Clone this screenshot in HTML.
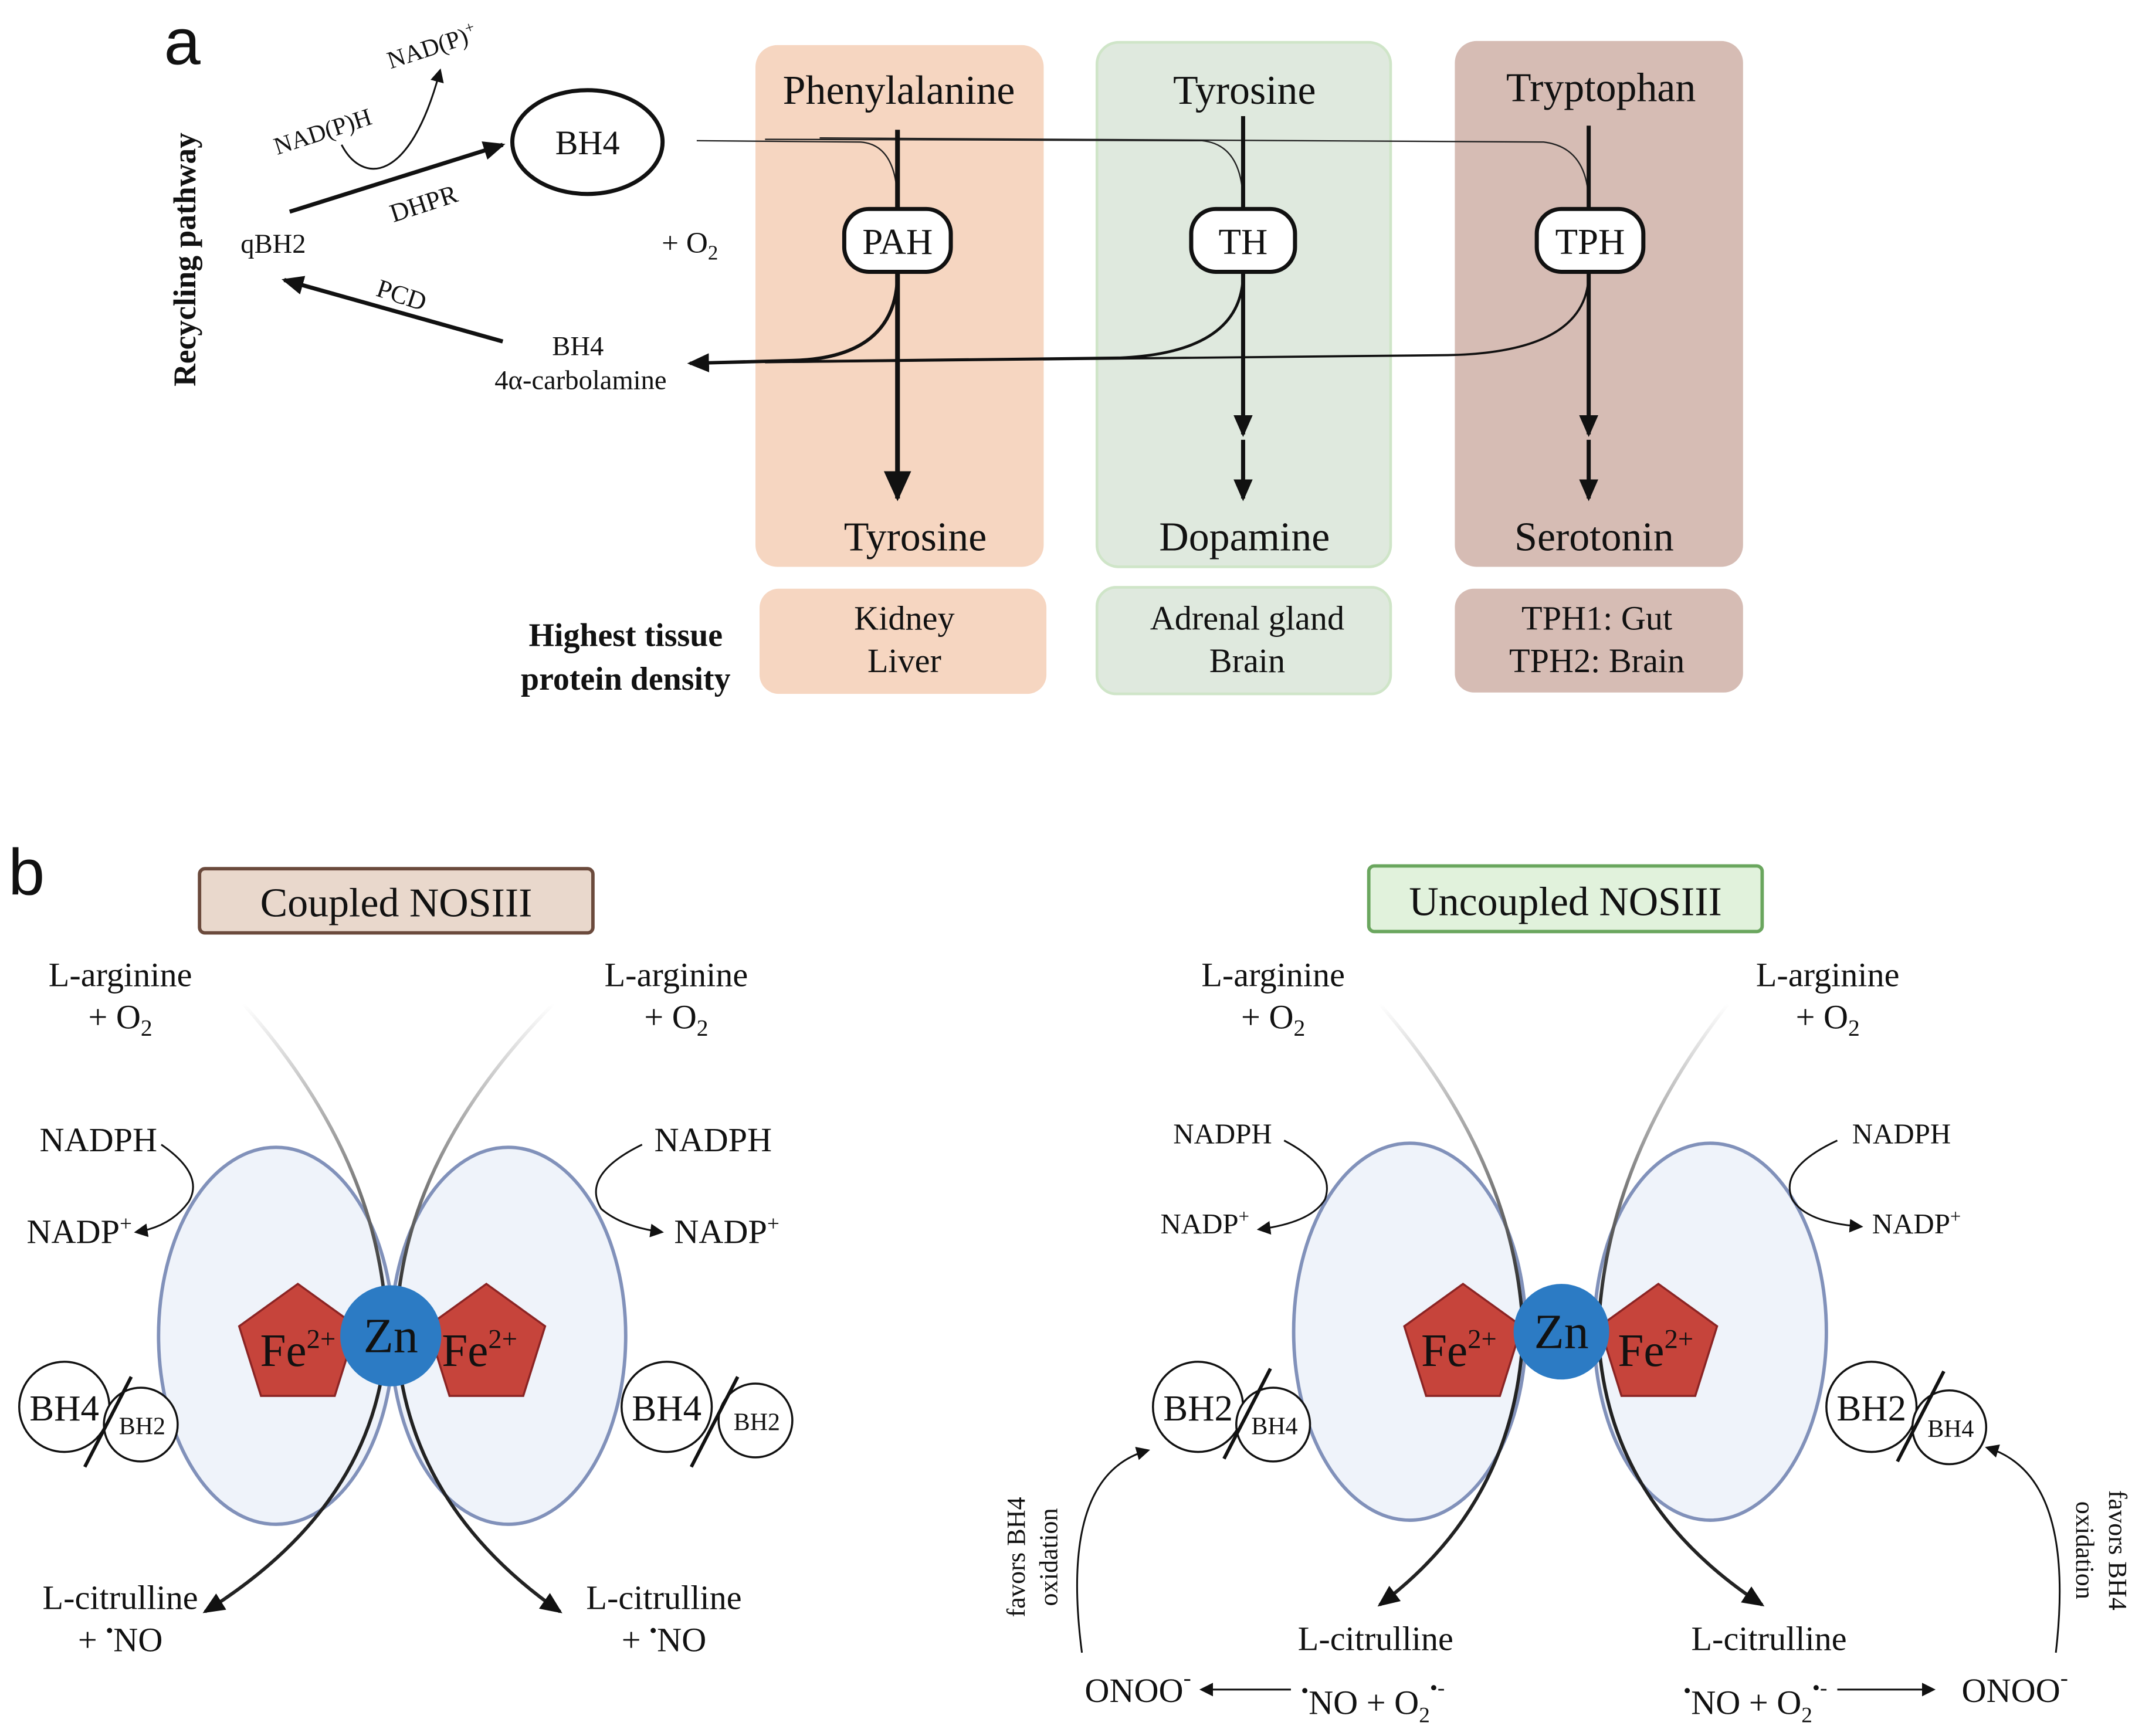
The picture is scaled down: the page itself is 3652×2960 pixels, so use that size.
<!DOCTYPE html>
<html><head><meta charset="utf-8"><style>
html,body{margin:0;padding:0;background:#fff;}
svg{display:block;}
text{font-family:"Liberation Serif",serif;fill:#111;}
.s{font-family:"Liberation Sans",sans-serif;}
</style></head><body>
<svg width="3652" height="2960" viewBox="0 0 1568 1271" xmlns="http://www.w3.org/2000/svg">
<defs>
<marker id="ah" markerWidth="10" markerHeight="10" refX="8" refY="5" orient="auto" markerUnits="userSpaceOnUse"><path d="M0,0 L10,5 L0,10 Z" fill="#111"/></marker>
<marker id="ahb" markerWidth="22" markerHeight="20" refX="20" refY="10" orient="auto" markerUnits="userSpaceOnUse"><path d="M0,0 L22,10 L0,20 Z" fill="#111"/></marker>
<marker id="ahm" markerWidth="16" markerHeight="14" refX="14" refY="7" orient="auto" markerUnits="userSpaceOnUse"><path d="M0,0 L16,7 L0,14 Z" fill="#111"/></marker>
<linearGradient id="gl" gradientUnits="userSpaceOnUse" x1="0" y1="735" x2="0" y2="960"><stop offset="0" stop-color="#fff"/><stop offset="1" stop-color="#222"/></linearGradient>
</defs>

<!-- panel a -->
<text x="120" y="47" class="s" font-size="48">a</text>
<text transform="translate(143,190) rotate(-90)" text-anchor="middle" font-size="23" font-weight="bold">Recycling pathway</text>

<ellipse cx="430" cy="104" rx="55" ry="38" fill="#fff" stroke="#111" stroke-width="3"/>
<text x="430" y="113" text-anchor="middle" font-size="25" style="font-family:'Liberation Serif',serif">BH4</text>
<text x="200" y="185" text-anchor="middle" font-size="20">qBH2</text>
<line x1="212" y1="155" x2="368" y2="106" stroke="#111" stroke-width="3" marker-end="url(#ahm)"/>
<text transform="translate(312,155) rotate(-18)" text-anchor="middle" font-size="19">DHPR</text>
<text transform="translate(238,102) rotate(-18)" text-anchor="middle" font-size="18">NAD(P)H</text>
<text transform="translate(318,40) rotate(-18)" text-anchor="middle" font-size="18">NAD(P)<tspan font-size="12" dy="-7">+</tspan></text>
<path d="M250,106 C265,135 300,135 322,52" fill="none" stroke="#111" stroke-width="1.3" marker-end="url(#ah)"/>
<line x1="368" y1="250" x2="208" y2="205" stroke="#111" stroke-width="3" marker-end="url(#ahm)"/>
<text transform="translate(292,222) rotate(18)" text-anchor="middle" font-size="19">PCD</text>
<text x="423" y="260" text-anchor="middle" font-size="20">BH4</text>
<text x="425" y="285" text-anchor="middle" font-size="20">4α-carbolamine</text>
<text x="505" y="185" text-anchor="middle" font-size="22">+ O<tspan font-size="15" dy="5">2</tspan></text>

<rect x="553" y="33" width="211" height="382" rx="16" fill="#f6d6c1"/>
<rect x="803" y="31" width="215" height="384" rx="16" fill="#dfe9de" stroke="#cfe5c8" stroke-width="2"/>
<rect x="1065" y="30" width="211" height="385" rx="16" fill="#d6bcb4"/>
<rect x="556" y="431" width="210" height="77" rx="14" fill="#f6d6c1"/>
<rect x="803" y="430" width="215" height="78" rx="14" fill="#dfe9de" stroke="#cfe5c8" stroke-width="2"/>
<rect x="1065" y="431" width="211" height="76" rx="14" fill="#d6bcb4"/>

<text x="658" y="76" text-anchor="middle" font-size="30">Phenylalanine</text>
<text x="911" y="76" text-anchor="middle" font-size="30">Tyrosine</text>
<text x="1172" y="74" text-anchor="middle" font-size="30">Tryptophan</text>

<path d="M510,103 L630,104 Q657,106 657,150" fill="none" stroke="#222" stroke-width="1"/>
<path d="M560,102 L880,103 Q910,106 910,150" fill="none" stroke="#222" stroke-width="1"/>
<path d="M600,101 L1130,104 Q1163,108 1163,150" fill="none" stroke="#222" stroke-width="1"/>
<path d="M657,200 Q657,262 580,264 L505,266" fill="none" stroke="#111" stroke-width="2.5" marker-end="url(#ahm)"/>
<path d="M910,200 Q910,258 820,262 L560,265" fill="none" stroke="#111" stroke-width="2"/>
<path d="M1163,200 Q1163,258 1060,260 L580,265" fill="none" stroke="#111" stroke-width="1.6"/>

<line x1="657" y1="95" x2="657" y2="365" stroke="#111" stroke-width="3.5" marker-end="url(#ahb)"/>
<line x1="910" y1="85" x2="910" y2="318" stroke="#111" stroke-width="3" marker-end="url(#ahm)"/>
<line x1="910" y1="322" x2="910" y2="365" stroke="#111" stroke-width="3" marker-end="url(#ahm)"/>
<line x1="1163" y1="92" x2="1163" y2="318" stroke="#111" stroke-width="3" marker-end="url(#ahm)"/>
<line x1="1163" y1="322" x2="1163" y2="365" stroke="#111" stroke-width="3" marker-end="url(#ahm)"/>

<rect x="618" y="153" width="78" height="46" rx="18" fill="#fff" stroke="#111" stroke-width="3"/>
<text x="657" y="186" text-anchor="middle" font-size="27">PAH</text>
<rect x="872" y="153" width="76" height="46" rx="18" fill="#fff" stroke="#111" stroke-width="3"/>
<text x="910" y="186" text-anchor="middle" font-size="27">TH</text>
<rect x="1125" y="153" width="78" height="46" rx="18" fill="#fff" stroke="#111" stroke-width="3"/>
<text x="1164" y="186" text-anchor="middle" font-size="27">TPH</text>

<text x="670" y="403" text-anchor="middle" font-size="30">Tyrosine</text>
<text x="911" y="403" text-anchor="middle" font-size="30">Dopamine</text>
<text x="1167" y="403" text-anchor="middle" font-size="30">Serotonin</text>

<text x="458" y="473" text-anchor="middle" font-size="24" font-weight="bold">Highest tissue</text>
<text x="458" y="505" text-anchor="middle" font-size="24" font-weight="bold">protein density</text>
<text x="662" y="461" text-anchor="middle" font-size="25">Kidney</text>
<text x="662" y="492" text-anchor="middle" font-size="25">Liver</text>
<text x="913" y="461" text-anchor="middle" font-size="25">Adrenal gland</text>
<text x="913" y="492" text-anchor="middle" font-size="25">Brain</text>
<text x="1169" y="461" text-anchor="middle" font-size="25">TPH1: Gut</text>
<text x="1169" y="492" text-anchor="middle" font-size="25">TPH2: Brain</text>

<!-- panel b -->
<text x="6" y="655" class="s" font-size="48">b</text>
<rect x="146" y="636" width="288" height="47" rx="4" fill="#e9d8cc" stroke="#6b4a3c" stroke-width="2.5"/>
<text x="290" y="671" text-anchor="middle" font-size="30">Coupled NOSIII</text>
<rect x="1002" y="634" width="288" height="48" rx="4" fill="#e1f2dc" stroke="#6aa65e" stroke-width="2.5"/>
<text x="1146" y="670" text-anchor="middle" font-size="30">Uncoupled NOSIII</text>

<ellipse cx="202" cy="978" rx="86" ry="138" fill="#eff3fa" stroke="#8191ba" stroke-width="2.5"/>
<ellipse cx="372" cy="978" rx="86" ry="138" fill="#eff3fa" stroke="#8191ba" stroke-width="2.5"/>
<path d="M178,735 Q280,850 283,975 Q278,1100 150,1180" fill="none" stroke="url(#gl)" stroke-width="2.5" marker-end="url(#ahm)"/>
<path d="M405,735 Q292,850 290,975 Q295,1100 410,1180" fill="none" stroke="url(#gl)" stroke-width="2.5" marker-end="url(#ahm)"/>
<polygon points="218,940 261,971 245,1022 191,1022 175,971" fill="#c6443b" stroke="#8b2424" stroke-width="1.5"/>
<polygon points="356,940 399,971 383,1022 329,1022 313,971" fill="#c6443b" stroke="#8b2424" stroke-width="1.5"/>
<circle cx="286" cy="978" r="37" fill="#2c7bc4"/>
<text x="286" y="990" text-anchor="middle" font-size="36">Zn</text>
<text x="218" y="1000" text-anchor="middle" font-size="34">Fe<tspan font-size="20" dy="-13">2+</tspan></text>
<text x="351" y="1000" text-anchor="middle" font-size="34">Fe<tspan font-size="20" dy="-13">2+</tspan></text>

<text x="88" y="722" text-anchor="middle" font-size="25">L-arginine</text>
<text x="88" y="753" text-anchor="middle" font-size="25">+ O<tspan font-size="17" dy="5">2</tspan></text>
<text x="495" y="722" text-anchor="middle" font-size="25">L-arginine</text>
<text x="495" y="753" text-anchor="middle" font-size="25">+ O<tspan font-size="17" dy="5">2</tspan></text>
<text x="72" y="843" text-anchor="middle" font-size="25">NADPH</text>
<text x="58" y="910" text-anchor="middle" font-size="25">NADP<tspan font-size="16" dy="-9">+</tspan></text>
<path d="M118,838 Q150,860 138,880 Q125,898 100,902" fill="none" stroke="#111" stroke-width="1.3" marker-end="url(#ah)"/>
<text x="522" y="843" text-anchor="middle" font-size="25">NADPH</text>
<text x="532" y="910" text-anchor="middle" font-size="25">NADP<tspan font-size="16" dy="-9">+</tspan></text>
<path d="M470,838 Q425,860 440,885 Q455,898 484,902" fill="none" stroke="#111" stroke-width="1.3" marker-end="url(#ah)"/>

<circle cx="47" cy="1030" r="33" fill="#fff" stroke="#111" stroke-width="1.5"/>
<circle cx="103" cy="1043" r="27" fill="#fff" stroke="#111" stroke-width="1.5"/>
<text x="47" y="1040" text-anchor="middle" font-size="27">BH4</text>
<text x="104" y="1050" text-anchor="middle" font-size="18">BH2</text>
<line x1="62" y1="1074" x2="96" y2="1008" stroke="#111" stroke-width="2.5"/>
<circle cx="488" cy="1030" r="33" fill="#fff" stroke="#111" stroke-width="1.5"/>
<circle cx="553" cy="1040" r="27" fill="#fff" stroke="#111" stroke-width="1.5"/>
<text x="488" y="1040" text-anchor="middle" font-size="27">BH4</text>
<text x="554" y="1047" text-anchor="middle" font-size="18">BH2</text>
<line x1="506" y1="1074" x2="540" y2="1008" stroke="#111" stroke-width="2.5"/>

<text x="88" y="1178" text-anchor="middle" font-size="25">L-citrulline</text>
<text x="88" y="1209" text-anchor="middle" font-size="25">+ <tspan font-size="16" dy="-10">•</tspan><tspan dy="10">NO</tspan></text>
<text x="486" y="1178" text-anchor="middle" font-size="25">L-citrulline</text>
<text x="486" y="1209" text-anchor="middle" font-size="25">+ <tspan font-size="16" dy="-10">•</tspan><tspan dy="10">NO</tspan></text>

<ellipse cx="1032" cy="975" rx="85" ry="138" fill="#eff3fa" stroke="#8191ba" stroke-width="2.5"/>
<ellipse cx="1252" cy="975" rx="85" ry="138" fill="#eff3fa" stroke="#8191ba" stroke-width="2.5"/>
<path d="M1010,735 Q1110,850 1115,975 Q1110,1100 1010,1175" fill="none" stroke="url(#gl)" stroke-width="2.5" marker-end="url(#ahm)"/>
<path d="M1265,735 Q1175,850 1170,975 Q1175,1100 1290,1175" fill="none" stroke="url(#gl)" stroke-width="2.5" marker-end="url(#ahm)"/>
<polygon points="1071,940 1114,971 1098,1022 1044,1022 1028,971" fill="#c6443b" stroke="#8b2424" stroke-width="1.5"/>
<polygon points="1214,940 1257,971 1241,1022 1187,1022 1171,971" fill="#c6443b" stroke="#8b2424" stroke-width="1.5"/>
<circle cx="1143" cy="975" r="35" fill="#2c7bc4"/>
<text x="1143" y="987" text-anchor="middle" font-size="36">Zn</text>
<text x="1068" y="1000" text-anchor="middle" font-size="34">Fe<tspan font-size="20" dy="-13">2+</tspan></text>
<text x="1212" y="1000" text-anchor="middle" font-size="34">Fe<tspan font-size="20" dy="-13">2+</tspan></text>

<text x="932" y="722" text-anchor="middle" font-size="25">L-arginine</text>
<text x="932" y="753" text-anchor="middle" font-size="25">+ O<tspan font-size="17" dy="5">2</tspan></text>
<text x="1338" y="722" text-anchor="middle" font-size="25">L-arginine</text>
<text x="1338" y="753" text-anchor="middle" font-size="25">+ O<tspan font-size="17" dy="5">2</tspan></text>
<text x="895" y="837" text-anchor="middle" font-size="21">NADPH</text>
<text x="882" y="903" text-anchor="middle" font-size="21">NADP<tspan font-size="14" dy="-8">+</tspan></text>
<path d="M940,835 Q978,855 970,878 Q960,895 922,900" fill="none" stroke="#111" stroke-width="1.3" marker-end="url(#ah)"/>
<text x="1392" y="837" text-anchor="middle" font-size="21">NADPH</text>
<text x="1403" y="903" text-anchor="middle" font-size="21">NADP<tspan font-size="14" dy="-8">+</tspan></text>
<path d="M1345,835 Q1302,855 1312,878 Q1322,895 1362,898" fill="none" stroke="#111" stroke-width="1.3" marker-end="url(#ah)"/>

<circle cx="877" cy="1030" r="33" fill="#fff" stroke="#111" stroke-width="1.5"/>
<circle cx="932" cy="1043" r="27" fill="#fff" stroke="#111" stroke-width="1.5"/>
<text x="877" y="1040" text-anchor="middle" font-size="27">BH2</text>
<text x="933" y="1050" text-anchor="middle" font-size="18">BH4</text>
<line x1="896" y1="1068" x2="930" y2="1002" stroke="#111" stroke-width="2.5"/>
<circle cx="1370" cy="1030" r="33" fill="#fff" stroke="#111" stroke-width="1.5"/>
<circle cx="1427" cy="1045" r="27" fill="#fff" stroke="#111" stroke-width="1.5"/>
<text x="1370" y="1040" text-anchor="middle" font-size="27">BH2</text>
<text x="1428" y="1052" text-anchor="middle" font-size="18">BH4</text>
<line x1="1389" y1="1070" x2="1423" y2="1004" stroke="#111" stroke-width="2.5"/>

<text x="1007" y="1208" text-anchor="middle" font-size="25">L-citrulline</text>
<text x="1005" y="1255" text-anchor="middle" font-size="25"><tspan font-size="16" dy="-12">•</tspan><tspan dy="12">NO + O</tspan><tspan font-size="16" dy="6">2</tspan><tspan font-size="16" dy="-20">•-</tspan></text>
<text x="1295" y="1208" text-anchor="middle" font-size="25">L-citrulline</text>
<text x="1285" y="1255" text-anchor="middle" font-size="25"><tspan font-size="16" dy="-12">•</tspan><tspan dy="12">NO + O</tspan><tspan font-size="16" dy="6">2</tspan><tspan font-size="16" dy="-20">•-</tspan></text>
<text x="833" y="1246" text-anchor="middle" font-size="25">ONOO<tspan font-size="17" dy="-12">-</tspan></text>
<line x1="945" y1="1237" x2="880" y2="1237" stroke="#111" stroke-width="1.3" marker-end="url(#ah)"/>
<text x="1475" y="1246" text-anchor="middle" font-size="25">ONOO<tspan font-size="17" dy="-12">-</tspan></text>
<line x1="1345" y1="1237" x2="1415" y2="1237" stroke="#111" stroke-width="1.3" marker-end="url(#ah)"/>

<text transform="translate(750,1140) rotate(-90)" text-anchor="middle" font-size="19">favors BH4</text>
<text transform="translate(774,1140) rotate(-90)" text-anchor="middle" font-size="19">oxidation</text>
<path d="M792,1210 Q775,1080 840,1062" fill="none" stroke="#111" stroke-width="1.3" marker-end="url(#ah)"/>
<text transform="translate(1544,1135) rotate(90)" text-anchor="middle" font-size="19">favors BH4</text>
<text transform="translate(1520,1135) rotate(90)" text-anchor="middle" font-size="19">oxidation</text>
<path d="M1505,1210 Q1520,1080 1455,1060" fill="none" stroke="#111" stroke-width="1.3" marker-end="url(#ah)"/>
</svg>
</body></html>
